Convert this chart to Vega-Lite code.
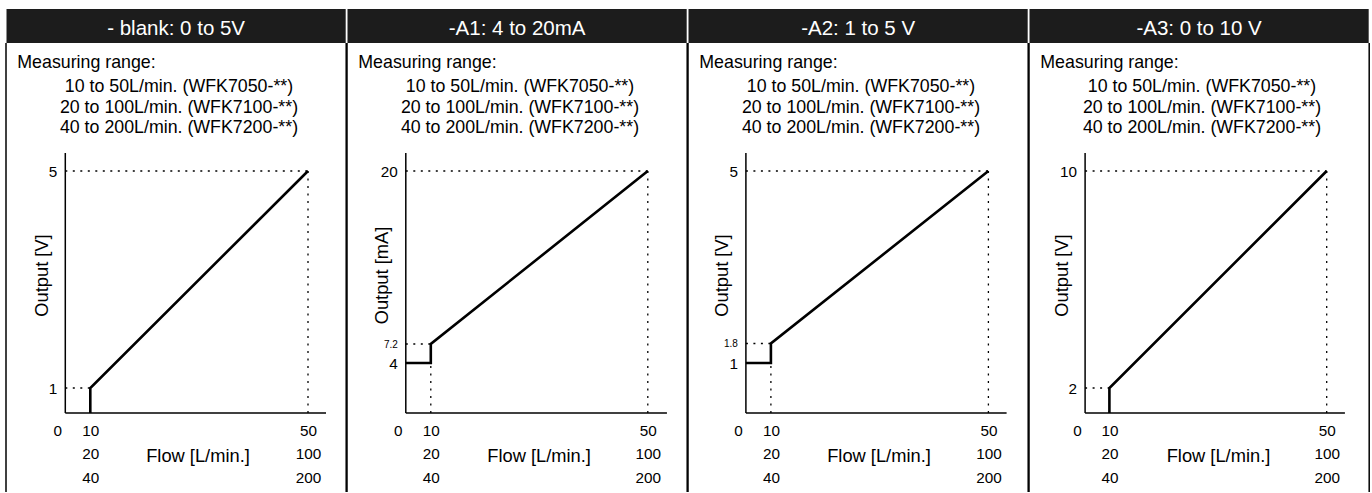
{
  "$schema": "https://vega.github.io/schema/vega-lite/v6.json",
  "padding": {"left": 5, "top": 9, "right": 0, "bottom": 0},
  "bounds": "flush",
  "spacing": 0,
  "config": {
    "font": "Liberation Sans",
    "view": {"stroke": null},
    "axis": {"labelColor": "black", "titleColor": "black", "labelFont": "Liberation Sans", "titleFont": "Liberation Sans", "titleFontWeight": "normal"}
  },
  "datasets": {
    "p1_line": [{"i": 0, "x": 10, "y": 0}, {"i": 1, "x": 10, "y": 1}, {"i": 2, "x": 50, "y": 5}],
    "p1_guides": [{"x": 0, "y": 1, "x2": 10, "y2": 1}, {"x": 0, "y": 5, "x2": 50, "y2": 5}, {"x": 50, "y": 0, "x2": 50, "y2": 5}],
    "p2_line": [{"i": 0, "x": 0, "y": 4}, {"i": 1, "x": 10, "y": 4}, {"i": 2, "x": 10, "y": 7.2}, {"i": 3, "x": 50, "y": 20}],
    "p2_guides": [{"x": 0, "y": 7.2, "x2": 10, "y2": 7.2}, {"x": 10, "y": 0, "x2": 10, "y2": 4}, {"x": 0, "y": 20, "x2": 50, "y2": 20}, {"x": 50, "y": 0, "x2": 50, "y2": 20}],
    "p3_line": [{"i": 0, "x": 0, "y": 1}, {"i": 1, "x": 10, "y": 1}, {"i": 2, "x": 10, "y": 1.8}, {"i": 3, "x": 50, "y": 5}],
    "p3_guides": [{"x": 0, "y": 1.8, "x2": 10, "y2": 1.8}, {"x": 10, "y": 0, "x2": 10, "y2": 1}, {"x": 0, "y": 5, "x2": 50, "y2": 5}, {"x": 50, "y": 0, "x2": 50, "y2": 5}],
    "p4_line": [{"i": 0, "x": 10, "y": 0}, {"i": 1, "x": 10, "y": 2}, {"i": 2, "x": 50, "y": 10}],
    "p4_guides": [{"x": 0, "y": 2, "x2": 10, "y2": 2}, {"x": 0, "y": 10, "x2": 50, "y2": 10}, {"x": 50, "y": 0, "x2": 50, "y2": 10}]
  },
  "hconcat": [
    {
      "width": 340.2, "height": 483,
      "resolve": {"scale": {"x": "independent", "y": "independent"}},
      "layer": [
        {
          "data": {"values": [{"header": "- blank: 0 to 5V", "label": "Measuring range:", "ranges": "10 to 50L/min. (WFK7050-**)\n20 to 100L/min. (WFK7100-**)\n40 to 200L/min. (WFK7200-**)"}]},
          "layer": [
            {"mark": {"type": "rect", "color": "#1c1c1c"}, "encoding": {
              "x": {"datum": 0.0015, "type": "quantitative", "scale": {"domain": [0, 1], "nice": false, "zero": false}, "axis": null},
              "x2": {"datum": 0.9985},
              "y": {"datum": 0, "type": "quantitative", "scale": {"domain": [0, 1], "reverse": true, "nice": false, "zero": false}, "axis": null},
              "y2": {"datum": 0.0704}}},
            {"mark": {"type": "rule", "color": "black", "strokeWidth": 1.5}, "encoding": {"x": {"datum": 0, "type": "quantitative", "axis": null}, "y": {"datum": 0.0704, "type": "quantitative", "axis": null}, "y2": {"datum": 1}}},
            {"mark": {"type": "rule", "color": "black", "strokeWidth": 1.5}, "encoding": {"x": {"datum": 1, "type": "quantitative", "axis": null}, "y": {"datum": 0.0704, "type": "quantitative", "axis": null}, "y2": {"datum": 1}}},
            {"mark": {"type": "text", "color": "white", "fontSize": 20.5, "align": "center", "baseline": "alphabetic"}, "encoding": {"x": {"datum": 0.5, "type": "quantitative", "axis": null}, "y": {"datum": 0.0545, "type": "quantitative", "axis": null}, "text": {"field": "header"}}},
            {"mark": {"type": "text", "color": "black", "fontSize": 17.8, "align": "left", "baseline": "alphabetic"}, "encoding": {"x": {"datum": 0.0332, "type": "quantitative", "axis": null}, "y": {"datum": 0.1228, "type": "quantitative", "axis": null}, "text": {"field": "label"}}},
            {"mark": {"type": "text", "color": "black", "fontSize": 17.8, "align": "center", "baseline": "alphabetic", "lineBreak": "\n", "lineHeight": 20.4}, "encoding": {"x": {"datum": 0.5085, "type": "quantitative", "axis": null}, "y": {"datum": 0.1725, "type": "quantitative", "axis": null}, "text": {"field": "ranges"}}}
          ]
        },
        {
          "layer": [
            {"data": {"name": "p1_guides"}, "mark": {"type": "rule", "color": "black", "strokeWidth": 1.3, "strokeDash": [2, 5.5]}, "encoding": {
              "x": {"field": "x", "type": "quantitative", "scale": {"domain": [-23.6, 0, 10, 50, 57], "range": [0, 59.3, 84.3, 302, 340.2], "nice": false, "zero": false},
                "axis": {"orient": "bottom", "offset": -79, "values": [0, 10, 50], "labelExpr": "datum.value == 10 ? ['10', '20', '40'] : datum.value == 50 ? ['50', '100', '200'] : '0'", "domain": false, "ticks": false, "tickSize": 0, "grid": false, "labelPadding": 10.5, "labelFontSize": 15.3, "labelLineHeight": 23.3, "labelFlush": false, "labelOverlap": false, "labelBound": false, "labelOffset": {"condition": {"test": "datum.value === 0", "value": -8}, "value": 0}, "title": "Flow [L/min.]", "titleX": 191.5, "titleY": 48.7, "titleAlign": "center", "titleBaseline": "alphabetic", "titleFontSize": 18.3}},
              "x2": {"field": "x2"},
              "y": {"field": "y", "type": "quantitative", "scale": {"domain": [-3.16, 0, 1, 5, 8], "range": [483, 404, 379, 162, 0], "nice": false, "zero": false},
                "axis": {"orient": "left", "offset": -59.3, "values": [1, 5], "labelExpr": "'' + datum.value", "domain": false, "ticks": false, "tickSize": 0, "grid": false, "labelPadding": 8.5, "labelFontSize": 15.3, "labelOverlap": false, "labelBound": false, "labelFlush": false, "title": "Output [V]", "titleX": -18, "titleY": 266, "titleAngle": 270, "titleAlign": "center", "titleBaseline": "alphabetic", "titleFontSize": 18.3}},
              "y2": {"field": "y2"}}},
            {"data": {"values": [{}]}, "mark": {"type": "rule", "color": "black", "strokeWidth": 1.5}, "encoding": {"x": {"datum": 0, "type": "quantitative"}, "x2": {"datum": 53.3}, "y": {"datum": 0, "type": "quantitative"}}},
            {"data": {"values": [{}]}, "mark": {"type": "rule", "color": "black", "strokeWidth": 1.5}, "encoding": {"x": {"datum": 0, "type": "quantitative"}, "y": {"datum": 0, "type": "quantitative"}, "y2": {"datum": 5.333}}},
            {"data": {"name": "p1_line"}, "mark": {"type": "line", "color": "black", "strokeWidth": 2.6, "strokeJoin": "miter"}, "encoding": {"x": {"field": "x", "type": "quantitative"}, "y": {"field": "y", "type": "quantitative"}, "order": {"field": "i"}}}
          ]
        }
      ]
    },
    {
      "width": 340.2, "height": 483,
      "resolve": {"scale": {"x": "independent", "y": "independent"}},
      "layer": [
        {
          "data": {"values": [{"header": "-A1: 4 to 20mA", "label": "Measuring range:", "ranges": "10 to 50L/min. (WFK7050-**)\n20 to 100L/min. (WFK7100-**)\n40 to 200L/min. (WFK7200-**)"}]},
          "layer": [
            {"mark": {"type": "rect", "color": "#1c1c1c"}, "encoding": {
              "x": {"datum": 0.0015, "type": "quantitative", "scale": {"domain": [0, 1], "nice": false, "zero": false}, "axis": null},
              "x2": {"datum": 0.9985},
              "y": {"datum": 0, "type": "quantitative", "scale": {"domain": [0, 1], "reverse": true, "nice": false, "zero": false}, "axis": null},
              "y2": {"datum": 0.0704}}},
            {"mark": {"type": "rule", "color": "black", "strokeWidth": 1.5}, "encoding": {"x": {"datum": 0, "type": "quantitative", "axis": null}, "y": {"datum": 0.0704, "type": "quantitative", "axis": null}, "y2": {"datum": 1}}},
            {"mark": {"type": "rule", "color": "black", "strokeWidth": 1.5}, "encoding": {"x": {"datum": 1, "type": "quantitative", "axis": null}, "y": {"datum": 0.0704, "type": "quantitative", "axis": null}, "y2": {"datum": 1}}},
            {"mark": {"type": "text", "color": "white", "fontSize": 20.5, "align": "center", "baseline": "alphabetic"}, "encoding": {"x": {"datum": 0.5, "type": "quantitative", "axis": null}, "y": {"datum": 0.0545, "type": "quantitative", "axis": null}, "text": {"field": "header"}}},
            {"mark": {"type": "text", "color": "black", "fontSize": 17.8, "align": "left", "baseline": "alphabetic"}, "encoding": {"x": {"datum": 0.0332, "type": "quantitative", "axis": null}, "y": {"datum": 0.1228, "type": "quantitative", "axis": null}, "text": {"field": "label"}}},
            {"mark": {"type": "text", "color": "black", "fontSize": 17.8, "align": "center", "baseline": "alphabetic", "lineBreak": "\n", "lineHeight": 20.4}, "encoding": {"x": {"datum": 0.5085, "type": "quantitative", "axis": null}, "y": {"datum": 0.1725, "type": "quantitative", "axis": null}, "text": {"field": "ranges"}}}
          ]
        },
        {
          "layer": [
            {"data": {"name": "p2_guides"}, "mark": {"type": "rule", "color": "black", "strokeWidth": 1.3, "strokeDash": [2, 5.5]}, "encoding": {
              "x": {"field": "x", "type": "quantitative", "scale": {"domain": [-23.6, 0, 10, 50, 57], "range": [0, 58.8, 83.8, 300.8, 340.2], "nice": false, "zero": false},
                "axis": {"orient": "bottom", "offset": -79, "values": [0, 10, 50], "labelExpr": "datum.value == 10 ? ['10', '20', '40'] : datum.value == 50 ? ['50', '100', '200'] : '0'", "domain": false, "ticks": false, "tickSize": 0, "grid": false, "labelPadding": 10.5, "labelFontSize": 15.3, "labelLineHeight": 23.3, "labelFlush": false, "labelOverlap": false, "labelBound": false, "labelOffset": {"condition": {"test": "datum.value === 0", "value": -8}, "value": 0}, "title": "Flow [L/min.]", "titleX": 191.6, "titleY": 48.7, "titleAlign": "center", "titleBaseline": "alphabetic", "titleFontSize": 18.3}},
              "x2": {"field": "x2"},
              "y": {"field": "y", "type": "quantitative", "scale": {"domain": [-6.32, 0, 4, 7.2, 20, 32], "range": [483, 404, 354, 335, 162, 0], "nice": false, "zero": false},
                "axis": {"orient": "left", "offset": -58.8, "values": [4, 7.2, 20], "labelExpr": "'' + datum.value", "domain": false, "ticks": false, "tickSize": 0, "grid": false, "labelPadding": 8.5, "labelFontSize": {"condition": {"test": "datum.value == 7.2", "value": 10}, "value": 15.3}, "labelOverlap": false, "labelBound": false, "labelFlush": false, "title": "Output [mA]", "titleX": -18, "titleY": 266, "titleAngle": 270, "titleAlign": "center", "titleBaseline": "alphabetic", "titleFontSize": 18.3}},
              "y2": {"field": "y2"}}},
            {"data": {"values": [{}]}, "mark": {"type": "rule", "color": "black", "strokeWidth": 1.5}, "encoding": {"x": {"datum": 0, "type": "quantitative"}, "x2": {"datum": 53.4}, "y": {"datum": 0, "type": "quantitative"}}},
            {"data": {"values": [{}]}, "mark": {"type": "rule", "color": "black", "strokeWidth": 1.5}, "encoding": {"x": {"datum": 0, "type": "quantitative"}, "y": {"datum": 0, "type": "quantitative"}, "y2": {"datum": 21.33}}},
            {"data": {"name": "p2_line"}, "mark": {"type": "line", "color": "black", "strokeWidth": 2.6, "strokeJoin": "miter"}, "encoding": {"x": {"field": "x", "type": "quantitative"}, "y": {"field": "y", "type": "quantitative"}, "order": {"field": "i"}}}
          ]
        }
      ]
    },
    {
      "width": 340.2, "height": 483,
      "resolve": {"scale": {"x": "independent", "y": "independent"}},
      "layer": [
        {
          "data": {"values": [{"header": "-A2: 1 to 5 V", "label": "Measuring range:", "ranges": "10 to 50L/min. (WFK7050-**)\n20 to 100L/min. (WFK7100-**)\n40 to 200L/min. (WFK7200-**)"}]},
          "layer": [
            {"mark": {"type": "rect", "color": "#1c1c1c"}, "encoding": {
              "x": {"datum": 0.0015, "type": "quantitative", "scale": {"domain": [0, 1], "nice": false, "zero": false}, "axis": null},
              "x2": {"datum": 0.9985},
              "y": {"datum": 0, "type": "quantitative", "scale": {"domain": [0, 1], "reverse": true, "nice": false, "zero": false}, "axis": null},
              "y2": {"datum": 0.0704}}},
            {"mark": {"type": "rule", "color": "black", "strokeWidth": 1.5}, "encoding": {"x": {"datum": 0, "type": "quantitative", "axis": null}, "y": {"datum": 0.0704, "type": "quantitative", "axis": null}, "y2": {"datum": 1}}},
            {"mark": {"type": "rule", "color": "black", "strokeWidth": 1.5}, "encoding": {"x": {"datum": 1, "type": "quantitative", "axis": null}, "y": {"datum": 0.0704, "type": "quantitative", "axis": null}, "y2": {"datum": 1}}},
            {"mark": {"type": "text", "color": "white", "fontSize": 20.5, "align": "center", "baseline": "alphabetic"}, "encoding": {"x": {"datum": 0.5, "type": "quantitative", "axis": null}, "y": {"datum": 0.0545, "type": "quantitative", "axis": null}, "text": {"field": "header"}}},
            {"mark": {"type": "text", "color": "black", "fontSize": 17.8, "align": "left", "baseline": "alphabetic"}, "encoding": {"x": {"datum": 0.0332, "type": "quantitative", "axis": null}, "y": {"datum": 0.1228, "type": "quantitative", "axis": null}, "text": {"field": "label"}}},
            {"mark": {"type": "text", "color": "black", "fontSize": 17.8, "align": "center", "baseline": "alphabetic", "lineBreak": "\n", "lineHeight": 20.4}, "encoding": {"x": {"datum": 0.5085, "type": "quantitative", "axis": null}, "y": {"datum": 0.1725, "type": "quantitative", "axis": null}, "text": {"field": "ranges"}}}
          ]
        },
        {
          "layer": [
            {"data": {"name": "p3_guides"}, "mark": {"type": "rule", "color": "black", "strokeWidth": 1.3, "strokeDash": [2, 5.5]}, "encoding": {
              "x": {"field": "x", "type": "quantitative", "scale": {"domain": [-23.6, 0, 10, 50, 57], "range": [0, 57.9, 82.9, 300.4, 340.2], "nice": false, "zero": false},
                "axis": {"orient": "bottom", "offset": -79, "values": [0, 10, 50], "labelExpr": "datum.value == 10 ? ['10', '20', '40'] : datum.value == 50 ? ['50', '100', '200'] : '0'", "domain": false, "ticks": false, "tickSize": 0, "grid": false, "labelPadding": 10.5, "labelFontSize": 15.3, "labelLineHeight": 23.3, "labelFlush": false, "labelOverlap": false, "labelBound": false, "labelOffset": {"condition": {"test": "datum.value === 0", "value": -8}, "value": 0}, "title": "Flow [L/min.]", "titleX": 190.5, "titleY": 48.7, "titleAlign": "center", "titleBaseline": "alphabetic", "titleFontSize": 18.3}},
              "x2": {"field": "x2"},
              "y": {"field": "y", "type": "quantitative", "scale": {"domain": [-1.58, 0, 1, 1.8, 5, 8], "range": [483, 404, 354, 334.5, 162, 0], "nice": false, "zero": false},
                "axis": {"orient": "left", "offset": -57.9, "values": [1, 1.8, 5], "labelExpr": "'' + datum.value", "domain": false, "ticks": false, "tickSize": 0, "grid": false, "labelPadding": 8.5, "labelFontSize": {"condition": {"test": "datum.value == 1.8", "value": 10}, "value": 15.3}, "labelOverlap": false, "labelBound": false, "labelFlush": false, "title": "Output [V]", "titleX": -18, "titleY": 266, "titleAngle": 270, "titleAlign": "center", "titleBaseline": "alphabetic", "titleFontSize": 18.3}},
              "y2": {"field": "y2"}}},
            {"data": {"values": [{}]}, "mark": {"type": "rule", "color": "black", "strokeWidth": 1.5}, "encoding": {"x": {"datum": 0, "type": "quantitative"}, "x2": {"datum": 53.2}, "y": {"datum": 0, "type": "quantitative"}}},
            {"data": {"values": [{}]}, "mark": {"type": "rule", "color": "black", "strokeWidth": 1.5}, "encoding": {"x": {"datum": 0, "type": "quantitative"}, "y": {"datum": 0, "type": "quantitative"}, "y2": {"datum": 5.334}}},
            {"data": {"name": "p3_line"}, "mark": {"type": "line", "color": "black", "strokeWidth": 2.6, "strokeJoin": "miter"}, "encoding": {"x": {"field": "x", "type": "quantitative"}, "y": {"field": "y", "type": "quantitative"}, "order": {"field": "i"}}}
          ]
        }
      ]
    },
    {
      "width": 340.2, "height": 483,
      "resolve": {"scale": {"x": "independent", "y": "independent"}},
      "layer": [
        {
          "data": {"values": [{"header": "-A3: 0 to 10 V", "label": "Measuring range:", "ranges": "10 to 50L/min. (WFK7050-**)\n20 to 100L/min. (WFK7100-**)\n40 to 200L/min. (WFK7200-**)"}]},
          "layer": [
            {"mark": {"type": "rect", "color": "#1c1c1c"}, "encoding": {
              "x": {"datum": 0.0015, "type": "quantitative", "scale": {"domain": [0, 1], "nice": false, "zero": false}, "axis": null},
              "x2": {"datum": 0.9985},
              "y": {"datum": 0, "type": "quantitative", "scale": {"domain": [0, 1], "reverse": true, "nice": false, "zero": false}, "axis": null},
              "y2": {"datum": 0.0704}}},
            {"mark": {"type": "rule", "color": "black", "strokeWidth": 1.5}, "encoding": {"x": {"datum": 0, "type": "quantitative", "axis": null}, "y": {"datum": 0.0704, "type": "quantitative", "axis": null}, "y2": {"datum": 1}}},
            {"mark": {"type": "rule", "color": "black", "strokeWidth": 1.5}, "encoding": {"x": {"datum": 1, "type": "quantitative", "axis": null}, "y": {"datum": 0.0704, "type": "quantitative", "axis": null}, "y2": {"datum": 1}}},
            {"mark": {"type": "text", "color": "white", "fontSize": 20.5, "align": "center", "baseline": "alphabetic"}, "encoding": {"x": {"datum": 0.5, "type": "quantitative", "axis": null}, "y": {"datum": 0.0545, "type": "quantitative", "axis": null}, "text": {"field": "header"}}},
            {"mark": {"type": "text", "color": "black", "fontSize": 17.8, "align": "left", "baseline": "alphabetic"}, "encoding": {"x": {"datum": 0.0332, "type": "quantitative", "axis": null}, "y": {"datum": 0.1228, "type": "quantitative", "axis": null}, "text": {"field": "label"}}},
            {"mark": {"type": "text", "color": "black", "fontSize": 17.8, "align": "center", "baseline": "alphabetic", "lineBreak": "\n", "lineHeight": 20.4}, "encoding": {"x": {"datum": 0.5085, "type": "quantitative", "axis": null}, "y": {"datum": 0.1725, "type": "quantitative", "axis": null}, "text": {"field": "ranges"}}}
          ]
        },
        {
          "layer": [
            {"data": {"name": "p4_guides"}, "mark": {"type": "rule", "color": "black", "strokeWidth": 1.3, "strokeDash": [2, 5.5]}, "encoding": {
              "x": {"field": "x", "type": "quantitative", "scale": {"domain": [-23.6, 0, 10, 50, 57], "range": [0, 56.1, 80.4, 297.7, 340.2], "nice": false, "zero": false},
                "axis": {"orient": "bottom", "offset": -79, "values": [0, 10, 50], "labelExpr": "datum.value == 10 ? ['10', '20', '40'] : datum.value == 50 ? ['50', '100', '200'] : '0'", "domain": false, "ticks": false, "tickSize": 0, "grid": false, "labelPadding": 10.5, "labelFontSize": 15.3, "labelLineHeight": 23.3, "labelFlush": false, "labelOverlap": false, "labelBound": false, "labelOffset": {"condition": {"test": "datum.value === 0", "value": -8}, "value": 0}, "title": "Flow [L/min.]", "titleX": 189, "titleY": 48.7, "titleAlign": "center", "titleBaseline": "alphabetic", "titleFontSize": 18.3}},
              "x2": {"field": "x2"},
              "y": {"field": "y", "type": "quantitative", "scale": {"domain": [-6.32, 0, 2, 10, 16], "range": [483, 404, 379, 162, 0], "nice": false, "zero": false},
                "axis": {"orient": "left", "offset": -56.1, "values": [2, 10], "labelExpr": "'' + datum.value", "domain": false, "ticks": false, "tickSize": 0, "grid": false, "labelPadding": 8.5, "labelFontSize": 15.3, "labelOverlap": false, "labelBound": false, "labelFlush": false, "title": "Output [V]", "titleX": -18, "titleY": 266, "titleAngle": 270, "titleAlign": "center", "titleBaseline": "alphabetic", "titleFontSize": 18.3}},
              "y2": {"field": "y2"}}},
            {"data": {"values": [{}]}, "mark": {"type": "rule", "color": "black", "strokeWidth": 1.5}, "encoding": {"x": {"datum": 0, "type": "quantitative"}, "x2": {"datum": 53.0}, "y": {"datum": 0, "type": "quantitative"}}},
            {"data": {"values": [{}]}, "mark": {"type": "rule", "color": "black", "strokeWidth": 1.5}, "encoding": {"x": {"datum": 0, "type": "quantitative"}, "y": {"datum": 0, "type": "quantitative"}, "y2": {"datum": 10.667}}},
            {"data": {"name": "p4_line"}, "mark": {"type": "line", "color": "black", "strokeWidth": 2.6, "strokeJoin": "miter"}, "encoding": {"x": {"field": "x", "type": "quantitative"}, "y": {"field": "y", "type": "quantitative"}, "order": {"field": "i"}}}
          ]
        }
      ]
    }
  ]
}
